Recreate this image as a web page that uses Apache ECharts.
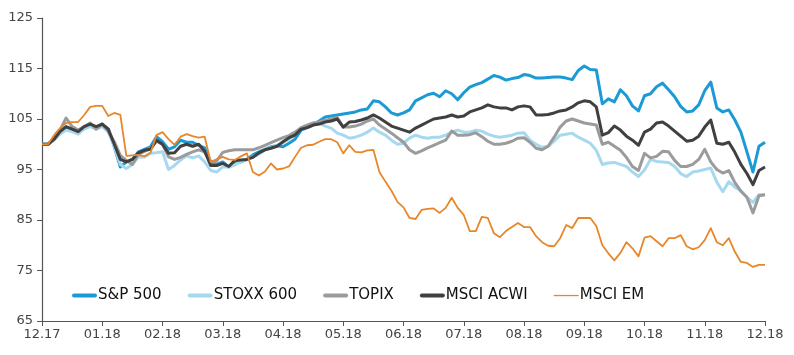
<!DOCTYPE html>
<html><head><meta charset="utf-8">
<script src="https://cdn.jsdelivr.net/npm/echarts@6/dist/echarts.min.js"></script>
<style>html,body{margin:0;padding:0;background:#fff}#c{width:794px;height:355px}</style>
</head><body><div id="c"></div>
<script>
var monthLabels = ['12.17','01.18','02.18','03.18','04.18','05.18','06.18','07.18','08.18','09.18','10.18','11.18','12.18'];
var seriesNames = ['S&P 500','STOXX 600','TOPIX','MSCI ACWI','MSCI EM'];
var yTicks = [65,75,85,95,105,115,125];

var sp500 = [100,100,101,102.5,103.3,103,102.5,103.3,104,103.3,104,103,99.5,95.5,96.5,97,98.5,99,99.5,101.5,100.5,99,99.5,100.8,100.4,100.4,99.8,99.3,96.5,96,96.5,95.5,96.3,96.5,97,97.9,98.5,99,99.5,99.7,99.5,100.2,101,102.8,103.3,103.8,104.6,105.4,105.6,105.8,106,106.2,106.4,106.8,107,108.6,108.4,107.4,106.2,105.8,106.2,106.8,108.6,109.2,109.8,110.1,109.4,110.6,110,108.8,110.2,111.3,111.8,112.2,112.9,113.6,113.3,112.7,113,113.2,113.8,113.6,113.1,113.1,113.2,113.3,113.3,113.1,112.8,114.6,115.5,114.8,114.7,108,109,108.4,110.8,109.6,107.6,106.6,109.6,110,111.4,112.1,110.8,109.4,107.5,106.4,106.6,107.8,110.6,112.3,107.2,106.4,106.8,104.8,102.4,98.5,94.5,99.6,100.4];
var stoxx600 = [100,100,100.8,102,102.8,102.5,102,103,103.5,103,103.5,102.5,99.5,96,95.2,96,97.5,97.5,98.2,98.3,98.5,95,95.8,96.9,97.7,97.3,97.7,96.5,94.8,94.5,95.5,95.5,95.9,96.5,96.9,97.5,98,98.9,99.3,99.8,100.3,101,101.8,103.2,103.6,103.9,104.2,103.6,103.2,102.2,101.8,101.2,101.4,101.8,102.4,103.2,102.4,101.8,100.8,100,100.2,101.2,101.8,101.4,101.2,101.4,101.4,101.8,102.4,102.8,102.4,102.4,102.8,102.6,102,101.6,101.4,101.6,101.8,102.2,102.3,100.8,100,99.4,99.6,100.6,101.8,102,102.2,101.4,100.8,100.2,98.8,96,96.3,96.4,96,95.6,94.5,93.6,94.9,97,96.6,96.5,96.4,95.6,94.2,93.6,94.5,94.7,95,95.3,92.5,90.6,92.6,91.5,90.8,89.5,88.5,90,90];
var topix = [100,100,101,102.8,105.2,103.5,102.8,103.5,104.2,103,104,102.5,100.5,97.8,96.8,96,98,98.6,99.2,100.6,100,97.5,97,97.4,98,98.5,98.9,98.5,96.5,96.7,98.4,98.7,98.9,98.9,98.9,98.9,99.3,99.8,100.3,100.8,101.3,101.7,102.4,103.3,103.8,104.2,104.4,104.7,105,105.3,103.4,103.4,103.6,104,104.6,105,103.8,103,102.2,101.3,100.4,98.9,98.2,98.7,99.3,99.8,100.3,100.8,102.6,101.8,101.8,101.9,102.3,101.5,100.6,100,100,100.2,100.6,101.2,101.3,100.4,99.2,98.9,99.6,101.4,103.4,104.6,105,104.6,104.2,104,103.8,100,100.4,99.6,98.8,97.4,95.6,94.8,98.2,97.3,97.6,98.6,98.5,96.8,95.6,95.6,96,97,99,96.5,95,94.3,94.8,92.4,90.7,89.5,86.4,89.8,90];
var msciAcwi = [100,100,101,102.5,103.5,103,102.5,103.5,104,103.5,104,103,100,97,96.5,97,98.3,98.8,99,100.8,100,98.2,98.3,99.6,100,99.6,100,98.6,95.8,95.8,96.2,95.6,96.8,96.9,97,97.4,98.3,98.9,99.2,99.6,100.5,101.3,101.8,103,103.3,103.8,104,104.4,104.6,105,103.4,104.4,104.5,104.8,105.2,105.8,105.2,104.4,103.6,103.2,102.8,102.4,103.2,103.8,104.4,105,105.2,105.4,105.8,105.4,105.6,106.4,106.8,107.2,107.8,107.4,107.2,107.2,106.8,107.4,107.6,107.4,105.8,105.8,105.9,106.2,106.6,106.8,107.4,108.2,108.6,108.4,107.4,101.8,102.3,103.6,102.8,101.6,100.8,99.8,102.4,103,104.2,104.4,103.6,102.6,101.6,100.6,100.8,101.6,103.4,104.8,100.2,100,100.4,98.4,96,94.2,92,94.8,95.5];
var msciEm = [100,100,101.8,103.2,104.2,104.4,104.4,105.8,107.4,107.6,107.6,105.6,106.2,105.8,97.7,97.8,97.9,97.6,98.3,101.8,102.4,101,99.9,101.5,102,101.6,101.3,101.5,96.5,97,97.5,97,96.9,97.6,98.2,94.5,93.8,94.6,96.2,95,95.2,95.6,97.5,99.3,99.8,99.9,100.5,101,101,100.4,98.2,99.8,98.5,98.4,98.8,98.9,94.5,92.6,90.8,88.6,87.5,85.4,85.2,87,87.2,87.3,86.4,87.4,89.4,87.4,86,82.8,82.8,85.6,85.4,82.4,81.6,82.8,83.6,84.4,83.6,83.6,81.8,80.6,79.9,79.8,81.4,84,83.4,85.4,85.4,85.4,83.8,80,78.4,77,78.5,80.6,79.4,77.8,81.5,81.8,80.8,79.8,81.4,81.4,82,79.8,79.2,79.6,81,83.4,80.6,80,81.4,78.7,76.7,76.5,75.7,76.1,76.1];

var allData = [sp500, stoxx600, topix, msciAcwi, msciEm];
var colors = ['#1b9ad6','#a6d8f0','#9b9b9b','#404040','#e8862a'];
var widths = [3, 3, 3, 3, 1.8];
var pointsPerMonth = 10;

var series = allData.map(function(arr, k){
  return {
    name: seriesNames[k], type: 'line', symbol: 'none', smooth: false,
    data: arr.map(function(v,i){ return [i, v]; }),
    lineStyle: { color: colors[k], width: widths[k], join: 'round' },
    itemStyle: { color: colors[k] },
    emphasis: { disabled: true }, animation: false
  };
});

var thickIcon = 'path://M2,0 L23,0 A2,2 0 0 1 23,4 L2,4 A2,2 0 0 1 2,0 Z';
var thinIcon = 'path://M0,0 M25,5 M0,1.9 L25,1.9 L25,3.2 L0,3.2 Z';
var chart = echarts.init(document.getElementById('c'), null, {renderer:'canvas'});
chart.setOption({
  animation: false,
  grid: { left: 42, right: 29, top: 18, bottom: 34, containLabel: false },
  legend: {
    left: 67, top: 283, itemWidth: 25, itemHeight: 5, itemGap: 26,
    textStyle: { fontFamily: 'DejaVu Sans', fontSize: 15, color: '#111', padding: [0,0,0,-4] },
    data: seriesNames.map(function(n,k){
      return { name: n, icon: k === 4 ? thinIcon : thickIcon, itemStyle: { color: colors[k] } };
    })
  },
  xAxis: {
    type: 'value', min: 0, max: (monthLabels.length-1)*pointsPerMonth, interval: pointsPerMonth,
    axisLine: { lineStyle: { color: '#555', width: 1.2 } },
    axisTick: { show: true, length: 5, lineStyle: { color: '#555' } },
    splitLine: { show: false },
    axisLabel: { fontFamily: 'DejaVu Sans', fontSize: 13, color: '#444', margin: 7,
      formatter: function(v){ return monthLabels[Math.round(v/pointsPerMonth)] || ''; } }
  },
  yAxis: {
    type: 'value', min: yTicks[0], max: yTicks[yTicks.length-1], interval: 10,
    axisLine: { show: true, lineStyle: { color: '#555', width: 1.2 } },
    axisTick: { show: true, length: 5, lineStyle: { color: '#555' } },
    splitLine: { show: false },
    axisLabel: { fontFamily: 'DejaVu Sans', fontSize: 13, color: '#444', margin: 9 }
  },
  series: series
});
</script></body></html>
